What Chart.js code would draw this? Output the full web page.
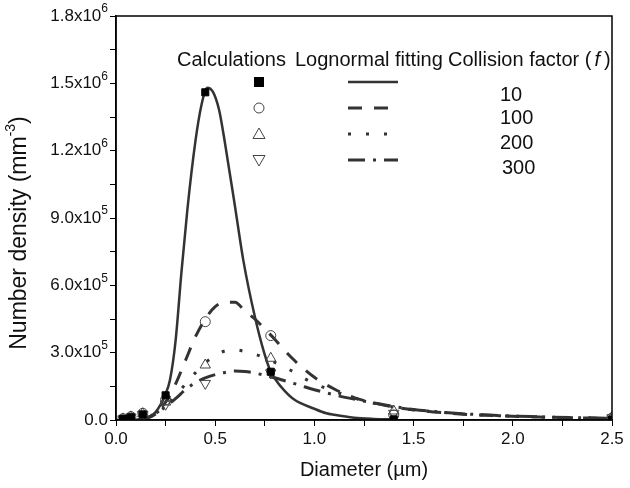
<!DOCTYPE html>
<html>
<head>
<meta charset="utf-8">
<script src="https://cdn.jsdelivr.net/npm/chart.js@4.4.0/dist/chart.umd.min.js"></script>
<style>
  html, body { margin: 0; padding: 0; background: #fff; }
  #wrap { width: 630px; height: 488px; }
</style>
</head>
<body>
<div id="wrap"><canvas id="chart" width="630" height="488"></canvas></div>
<script>
// calculated points (markers)
const calcDiam = [0.035, 0.075, 0.135, 0.25, 0.45, 0.78, 1.4, 2.5];
const calc10  = [5e3, 1.2e4, 2.5e4, 1.1e5, 1.46e6, 2.15e5, 3e3, 2e3];
const calc100 = [6e3, 1.5e4, 3.0e4, 9.0e4, 4.38e5, 3.76e5, 2.2e4, 9e3];
const calc200 = [5e3, 1.4e4, 2.8e4, 8.0e4, 2.45e5, 2.75e5, 4.0e4, 1.2e4];
const calc300 = [5e3, 1.3e4, 2.5e4, 7.0e4, 1.63e5, 2.10e5, 3.0e4, 1.0e4];

// lognormal fitting curves
const fitDiam10 = [0.10, 0.17, 0.20, 0.247, 0.272, 0.30, 0.33, 0.36, 0.40, 0.43, 0.46, 0.49, 0.52, 0.55, 0.60, 0.642, 0.70, 0.75, 0.78, 0.80, 0.85, 0.90, 1.00, 1.06, 1.10, 1.20, 1.30, 1.40];
const fit10 = [1e3, 1.5e4, 3.5e4, 1.1e5, 1.78e5, 3.5e5, 6.6e5, 9.4e5, 1.24e6, 1.40e6, 1.48e6, 1.46e6, 1.38e6, 1.23e6, 9.5e5, 7.1e5, 4.6e5, 2.9e5, 2.15e5, 1.85e5, 1.3e5, 9.0e4, 5.0e4, 3.0e4, 2.3e4, 1.0e4, 5e3, 3e3];

const fitDiam = [0.12, 0.18, 0.25, 0.30, 0.35, 0.40, 0.45, 0.50, 0.55, 0.60, 0.65, 0.70, 0.75, 0.80, 0.85, 0.90, 0.95, 1.0, 1.1, 1.2, 1.3, 1.4, 1.5, 1.6, 1.75, 1.9, 2.1, 2.3, 2.5];
const fit100 = [2e3, 2e4, 8e4, 1.6e5, 2.65e5, 3.7e5, 4.5e5, 5.05e5, 5.25e5, 5.25e5, 4.85e5, 4.5e5, 4.05e5, 3.6e5, 3.1e5, 2.65e5, 2.25e5, 1.9e5, 1.38e5, 1.0e5, 7.6e4, 5.8e4, 4.5e4, 3.6e4, 2.6e4, 2.0e4, 1.4e4, 1.0e4, 7e3];
const fit200 = [2e3, 1.8e4, 6.5e4, 1.08e5, 1.6e5, 2.1e5, 2.55e5, 2.88e5, 3.08e5, 3.13e5, 3.05e5, 2.93e5, 2.77e5, 2.57e5, 2.35e5, 2.12e5, 1.85e5, 1.62e5, 1.28e5, 9.8e4, 7.5e4, 5.8e4, 4.5e4, 3.7e4, 2.7e4, 2.0e4, 1.45e4, 1.0e4, 7.5e3];
const fit300 = [2e3, 1.6e4, 6e4, 9.5e4, 1.35e5, 1.66e5, 1.88e5, 2.02e5, 2.12e5, 2.18e5, 2.16e5, 2.09e5, 1.99e5, 1.88e5, 1.75e5, 1.62e5, 1.48e5, 1.35e5, 1.12e5, 9.3e4, 7.6e4, 6.0e4, 4.7e4, 3.8e4, 2.8e4, 2.1e4, 1.5e4, 1.05e4, 7.5e3];

// axis labels
const yTickValues = [0, 3e5, 6e5, 9e5, 1.2e6, 1.5e6, 1.8e6];
const yTickMant = ["0.0", "3.0x10", "6.0x10", "9.0x10", "1.2x10", "1.5x10", "1.8x10"];
const yTickExp  = ["", "5", "5", "5", "6", "6", "6"];
const collisionFactors = ["10", "100", "200", "300"];

const INK = "#333";
const FONT = "'Liberation Sans', Arial, sans-serif";
const DASHES = [[], [14, 12], [3, 15], [17, 8, 3, 8]];

function pts(xs, ys) { return xs.map((x, i) => ({ x: x, y: ys[i] })); }

function marker(ctx, kind, x, y) {
  ctx.save();
  ctx.lineWidth = 1;
  ctx.strokeStyle = "#444";
  ctx.setLineDash([]);
  ctx.beginPath();
  if (kind === 0) {
    ctx.fillStyle = "#000";
    ctx.fillRect(x - 5, y - 5, 10, 10);
  } else if (kind === 1) {
    ctx.arc(x, y, 5, 0, Math.PI * 2);
    ctx.stroke();
  } else if (kind === 2) {
    ctx.moveTo(x, y - 6); ctx.lineTo(x + 6, y + 4.5); ctx.lineTo(x - 6, y + 4.5); ctx.closePath();
    ctx.stroke();
  } else {
    ctx.moveTo(x, y + 6); ctx.lineTo(x + 6, y - 4.5); ctx.lineTo(x - 6, y - 4.5); ctx.closePath();
    ctx.stroke();
  }
  ctx.restore();
}

const decor = {
  id: "decor",
  afterDraw(chart) {
    const ctx = chart.ctx;
    const a = chart.chartArea;
    const ys = chart.scales.y;
    ctx.save();
    // frame
    ctx.strokeStyle = "#000";
    ctx.lineWidth = 1.5;
    ctx.strokeRect(a.left, a.top, a.right - a.left, a.bottom - a.top);

    // y tick labels with superscripts
    ctx.fillStyle = "#111";
    ctx.textBaseline = "middle";
    ctx.textAlign = "left";
    yTickValues.forEach((v, i) => {
      const py = ys.getPixelForValue(v);
      ctx.font = "12px " + FONT;
      const we = yTickExp[i] ? ctx.measureText(yTickExp[i]).width : 0;
      ctx.font = "17px " + FONT;
      const wb = ctx.measureText(yTickMant[i]).width;
      const right = 108;
      ctx.fillText(yTickMant[i], right - we - wb, py);
      if (yTickExp[i]) {
        ctx.font = "12px " + FONT;
        ctx.fillText(yTickExp[i], right - we, py - 7);
      }
    });

    // y title
    ctx.save();
    ctx.translate(20, 233);
    ctx.rotate(-Math.PI / 2);
    const t1 = "Number density (mm", t2 = "-3", t3 = ")";
    ctx.font = "23px " + FONT;
    const w1 = ctx.measureText(t1).width, w3 = ctx.measureText(t3).width;
    ctx.font = "14px " + FONT;
    const w2 = ctx.measureText(t2).width;
    let x0 = -(w1 + w2 + w3) / 2;
    ctx.font = "23px " + FONT;
    ctx.fillText(t1, x0, 0);
    ctx.font = "14px " + FONT;
    ctx.fillText(t2, x0 + w1, -9);
    ctx.font = "23px " + FONT;
    ctx.fillText(t3, x0 + w1 + w2, 0);
    ctx.restore();

    // legend
    ctx.font = "20px " + FONT;
    ctx.fillStyle = "#111";
    ctx.fillText("Calculations", 177, 60);
    ctx.fillText("Lognormal fitting", 295, 60);
    const cf = "Collision factor (";
    ctx.fillText(cf, 448, 60);
    const wcf = ctx.measureText(cf).width;
    ctx.font = "italic 20px " + FONT;
    ctx.fillText("f", 448 + wcf + 3, 60);
    const wf = ctx.measureText("f").width;
    ctx.font = "20px " + FONT;
    ctx.fillText(")", 448 + wcf + wf + 7, 60);

    const rowY = [82, 108, 134, 160];
    const valY = [95, 118, 143, 168];
    const lineEnd = [398, 390, 395, 398];
    rowY.forEach((y, i) => {
      marker(ctx, i, 259, y);
      ctx.save();
      ctx.strokeStyle = INK;
      ctx.lineWidth = i === 0 ? 2.5 : 3;
      ctx.setLineDash(DASHES[i]);
      ctx.beginPath();
      ctx.moveTo(348, y);
      ctx.lineTo(lineEnd[i], y);
      ctx.stroke();
      ctx.restore();
      ctx.fillStyle = "#111";
      ctx.font = "20px " + FONT;
      ctx.fillText(collisionFactors[i], i === 3 ? 502 : 500, valY[i]);
    });
    ctx.restore();
  }
};

function fitSet(xs, ys, dash, w) {
  return {
    type: "line", data: pts(xs, ys), borderColor: INK, borderWidth: w,
    borderDash: dash, pointRadius: 0, fill: false, showLine: true,
    cubicInterpolationMode: "monotone", order: 2
  };
}
function calcSet(ys, style, fillCol, r, rot) {
  return {
    type: "scatter", data: pts(calcDiam, ys), pointStyle: style, pointRadius: r,
    pointRotation: rot, backgroundColor: fillCol, borderColor: fillCol === "#000" ? "#000" : "#444",
    borderWidth: 1, order: 0
  };
}

new Chart(document.getElementById("chart"), {
  type: "scatter",
  data: {
    datasets: [
      fitSet(fitDiam10, fit10, DASHES[0], 2.5),
      fitSet(fitDiam, fit100, DASHES[1], 3),
      fitSet(fitDiam, fit200, DASHES[2], 3),
      fitSet(fitDiam, fit300, DASHES[3], 3),
      calcSet(calc10, "rect", "#000", 5, 0),
      calcSet(calc100, "circle", "rgba(0,0,0,0)", 5, 0),
      calcSet(calc200, "triangle", "rgba(0,0,0,0)", 6, 0),
      calcSet(calc300, "triangle", "rgba(0,0,0,0)", 6, 180)
    ]
  },
  options: {
    responsive: false,
    animation: false,
    layout: { padding: { top: 16, right: 18, left: 0, bottom: 0 } },
    plugins: { legend: { display: false }, tooltip: { enabled: false } },
    scales: {
      x: {
        type: "linear", min: 0, max: 2.5,
        afterFit: s => { s.height = 68; },
        ticks: {
          stepSize: 0.25, autoSkip: false, maxRotation: 0, color: "#111", padding: 3,
          font: { family: FONT, size: 17 },
          callback: v => (Math.abs(v * 2 - Math.round(v * 2)) < 1e-6 ? v.toFixed(1) : "")
        },
        grid: { drawOnChartArea: false, drawTicks: true, tickLength: 6, color: "#000" },
        border: { color: "#000", width: 1.5 },
        title: {
          display: true, text: "Diameter (µm)", color: "#111",
          font: { family: FONT, size: 20 }, padding: { top: 4, bottom: 6 }
        }
      },
      y: {
        min: 0, max: 1.8e6,
        afterFit: s => { s.width = 116; },
        ticks: { stepSize: 1.5e5, display: false },
        grid: { drawOnChartArea: false, drawTicks: true, tickLength: 6, color: "#000" },
        border: { color: "#000", width: 1.5 }
      }
    }
  },
  plugins: [decor]
});
</script>
</body>
</html>
